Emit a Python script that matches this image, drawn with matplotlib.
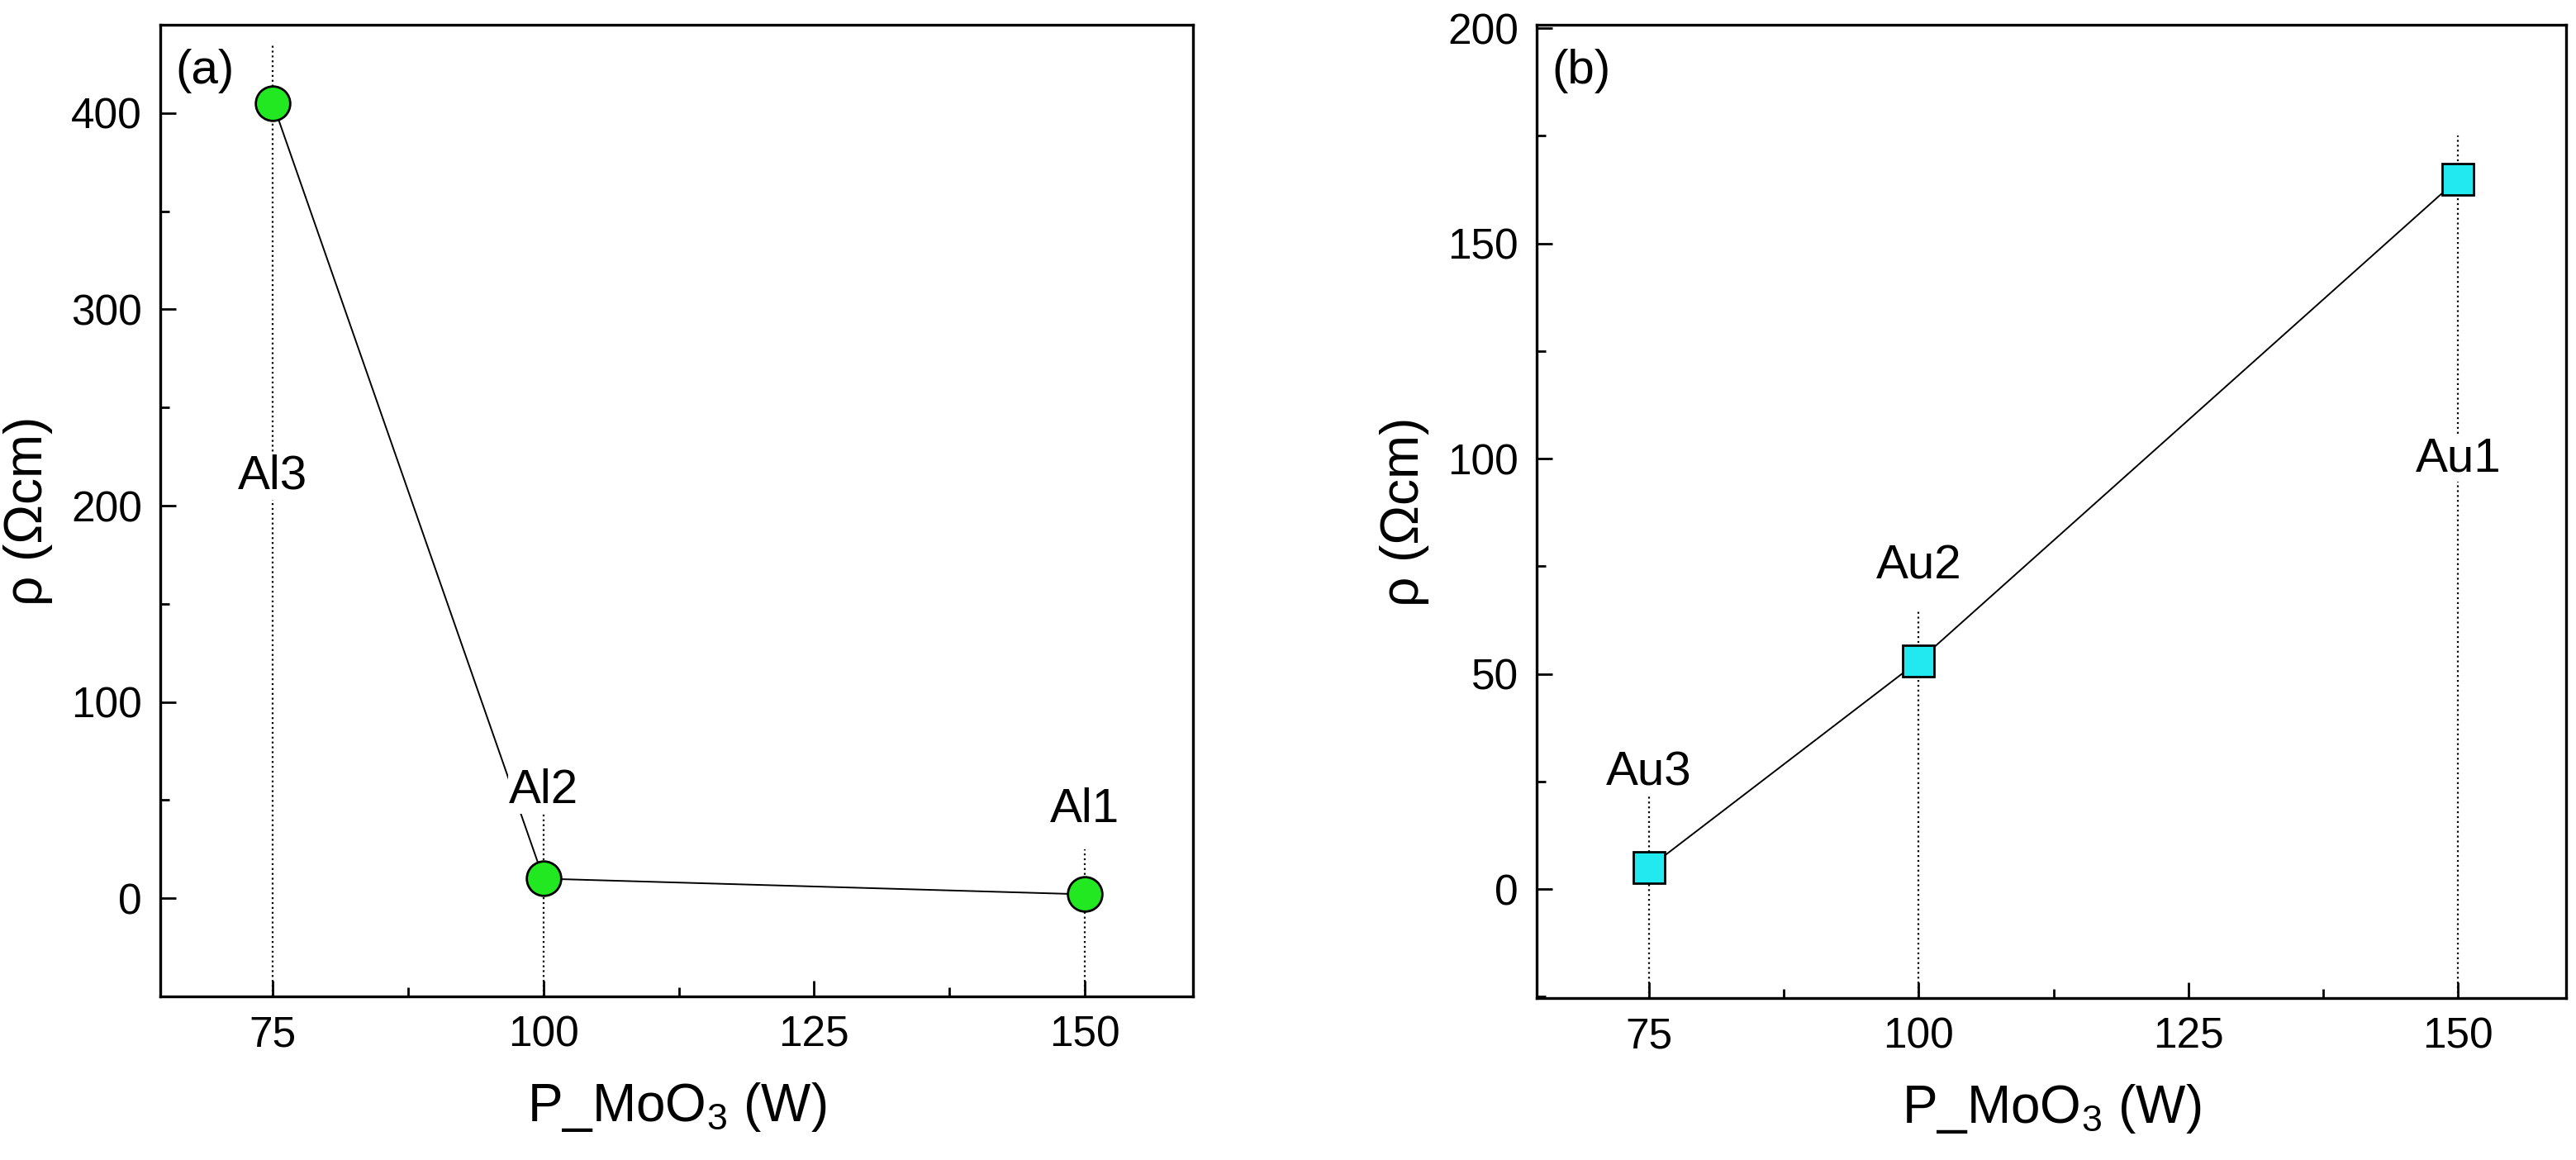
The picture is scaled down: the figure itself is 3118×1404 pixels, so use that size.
import matplotlib
matplotlib.use("Agg")
import matplotlib.pyplot as plt
from matplotlib.ticker import MultipleLocator

plt.rcParams["font.family"] = ["Liberation Sans", "DejaVu Sans"]
plt.rcParams["mathtext.fontset"] = "custom"
plt.rcParams["mathtext.rm"] = "Liberation Sans"

# --- data ---
power = [75, 100, 150]
rho_al = [405, 10, 2]
rho_au = [5, 53, 165]
labels_al = ["Al3", "Al2", "Al1"]
labels_au = ["Au3", "Au2", "Au1"]
label_y_al = [215, 55, 45]
label_y_au = [27, 75, 100]
drop_top_al = [435, 45, 25]
drop_top_au = [22, 65, 175]

fig = plt.figure(figsize=(31.18, 14.04), dpi=100)
ax_a = fig.add_axes([194 / 3118, 1 - 1206 / 1404, 1250 / 3118, 1176 / 1404])
ax_b = fig.add_axes([1860 / 3118, 1 - 1208 / 1404, 1246 / 3118, 1178 / 1404])


def panel(ax, y, labels, label_y, drop_top, ylim, ymaj, ymin, marker, ms, color, tag):
    ax.set_xlim(64.6, 160)
    ax.set_ylim(*ylim)
    for x, top, yl, lab in zip(power, drop_top, label_y, labels):
        ax.plot([x, x], [ylim[0], top], ls=":", color="k", lw=1.6, zorder=1)
        ax.text(x, yl, lab, ha="center", va="center", fontsize=42, zorder=4,
                bbox=dict(facecolor="white", edgecolor="none", pad=1))
    ax.plot(power, y, color="k", lw=1.4, zorder=3)
    ax.plot(power, y, ls="none", marker=marker, ms=ms, mfc=color, mec="k",
            mew=2, zorder=5)
    ax.xaxis.set_major_locator(MultipleLocator(25))
    ax.xaxis.set_minor_locator(MultipleLocator(12.5))
    ax.yaxis.set_major_locator(MultipleLocator(ymaj))
    ax.yaxis.set_minor_locator(MultipleLocator(ymin))
    ax.tick_params(which="both", direction="in", labelsize=37, width=2)
    ax.tick_params(which="major", length=14, pad=16)
    ax.tick_params(which="minor", length=8)
    for s in ax.spines.values():
        s.set_linewidth(2.4)
    ax.set_xlabel(r"P_MoO$_3$ (W)", fontsize=46, labelpad=22)
    ax.set_ylabel("ρ (Ωcm)", fontsize=46, labelpad=16)
    ax.text(0.015, 0.975, tag, transform=ax.transAxes, fontsize=42,
            ha="left", va="top")


panel(ax_a, rho_al, labels_al, label_y_al, drop_top_al, (-50, 445), 100, 50,
      "o", 30, "#22e822", "(a)")
panel(ax_b, rho_au, labels_au, label_y_au, drop_top_au, (-25.3, 200.8), 50, 25,
      "s", 27, "#22e8f0", "(b)")

fig.savefig("out.png", dpi=100)
